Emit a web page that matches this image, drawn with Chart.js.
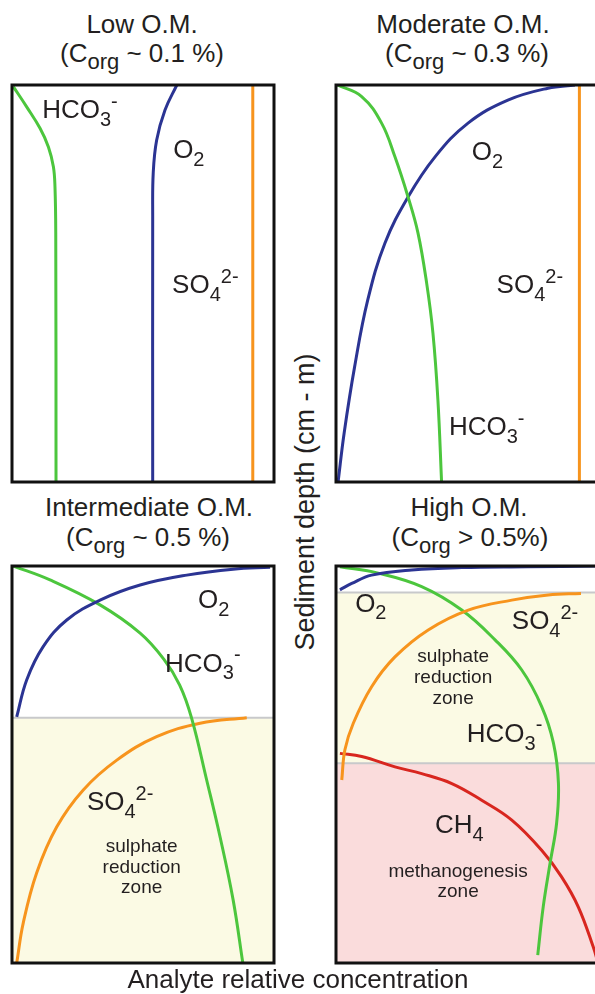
<!DOCTYPE html>
<html>
<head>
<meta charset="utf-8">
<script src="https://cdn.jsdelivr.net/npm/chart.js@4.4.1/dist/chart.umd.min.js"></script>
<style>
  html, body { margin: 0; padding: 0; background: #fff; overflow: hidden; }
  body { width: 595px; height: 994px; position: relative; font-family: "Liberation Sans", Arial, sans-serif; color: #231f20; }
  .panel { position: absolute; }
  .ttl { position: absolute; font-size: 26px; line-height: 30px; white-space: nowrap; transform: translateX(-50%); }
  .ttl .sb { font-size: 22px; position: relative; top: 7px; }
  #ytitle { position: absolute; left: 305px; top: 502px; font-size: 27px; line-height: 30px; white-space: nowrap;
            transform: translate(-50%, -50%) rotate(-90deg); }
  #xtitle { position: absolute; left: 298px; top: 964px; font-size: 26px; line-height: 30px; white-space: nowrap; transform: translateX(-50%); }
</style>
</head>
<body>

<div class="ttl" style="left:142px; top:9px">Low O.M.</div>
<div class="ttl" style="left:142px; top:38px">(C<span class="sb">org</span> ~ 0.1 %)</div>
<div class="ttl" style="left:463px; top:9px">Moderate O.M.</div>
<div class="ttl" style="left:467px; top:38px">(C<span class="sb">org</span> ~ 0.3 %)</div>
<div class="ttl" style="left:149px; top:492px">Intermediate O.M.</div>
<div class="ttl" style="left:148px; top:522px">(C<span class="sb">org</span> ~ 0.5 %)</div>
<div class="ttl" style="left:469px; top:492px">High O.M.</div>
<div class="ttl" style="left:470px; top:522px">(C<span class="sb">org</span> &gt; 0.5%)</div>

<div class="panel" style="left:8px; top:81px"><canvas id="pLow" width="270" height="405"></canvas></div>
<div class="panel" style="left:332px; top:81px"><canvas id="pMod" width="270" height="405"></canvas></div>
<div class="panel" style="left:8px; top:562px"><canvas id="pInt" width="270" height="405"></canvas></div>
<div class="panel" style="left:332px; top:562px"><canvas id="pHigh" width="270" height="405"></canvas></div>

<div id="ytitle">Sediment depth (cm - m)</div>
<div id="xtitle">Analyte relative concentration</div>

<script>
// [relative concentration, relative depth]
var lowHCO3 = [[0.005,0.004],[0.056,0.055],[0.107,0.109],[0.139,0.156],[0.158,0.206],[0.164,0.256],[0.167,0.373],[0.168,1.0]];
var lowO2   = [[0.629,0.0],[0.584,0.063],[0.552,0.139],[0.539,0.222],[0.537,0.332],[0.537,1.0]];
var lowSO4  = [[0.919,0.0],[0.919,1.0]];

var modHCO3 = [[0.005,0.0],[0.098,0.029],[0.174,0.096],[0.225,0.181],[0.275,0.282],[0.313,0.373],[0.346,0.499],[0.37,0.625],[0.389,0.794],[0.403,1.0]];
var modO2   = [[0.008,1.0],[0.031,0.877],[0.071,0.71],[0.121,0.542],[0.187,0.398],[0.275,0.282],[0.378,0.181],[0.504,0.096],[0.656,0.038],[0.809,0.008],[0.912,0.0]];
var modSO4  = [[0.929,0.0],[0.929,1.0]];

var intO2   = [[0.018,0.38],[0.056,0.287],[0.119,0.203],[0.209,0.136],[0.336,0.086],[0.489,0.048],[0.667,0.023],[0.844,0.008],[0.985,0.003]];
var intHCO3 = [[0.005,0.0],[0.145,0.035],[0.336,0.098],[0.489,0.169],[0.58,0.235],[0.64,0.3],[0.685,0.382],[0.743,0.539],[0.794,0.682],[0.844,0.841],[0.881,1.0]];
var intSO4  = [[0.018,1.0],[0.043,0.899],[0.094,0.773],[0.171,0.657],[0.272,0.564],[0.4,0.489],[0.552,0.43],[0.718,0.396],[0.896,0.382]];
var intZones = [0.382];

var highO2   = [[0.015,0.06],[0.06,0.044],[0.136,0.023],[0.289,0.01],[0.48,0.004],[0.733,0.002],[0.989,0.0]];
var highHCO3 = [[0.015,0.002],[0.161,0.018],[0.327,0.052],[0.48,0.111],[0.607,0.186],[0.709,0.262],[0.785,0.354],[0.83,0.446],[0.849,0.547],[0.842,0.648],[0.817,0.749],[0.791,0.858],[0.77,0.98]];
var highSO4  = [[0.022,0.539],[0.034,0.463],[0.066,0.396],[0.136,0.304],[0.225,0.229],[0.352,0.161],[0.505,0.111],[0.671,0.086],[0.81,0.073],[0.935,0.069]];
var highCH4  = [[0.015,0.472],[0.098,0.48],[0.225,0.506],[0.327,0.523],[0.442,0.548],[0.556,0.59],[0.671,0.64],[0.785,0.716],[0.861,0.783],[0.925,0.859],[0.982,0.96],[1.0,1.0]];
var highZones = [0.067, 0.497];

var GREEN = '#4cc63d', BLUE = '#2b3493', ORANGE = '#f7941d', RED = '#d8261f';
var YELLOW = '#fbfae4', PINK = '#fadcdc', GREY = '#c8c9cb';
var FONT = '"Liberation Sans", Arial, sans-serif';

var HCO3 = [['HCO','n'],['3','sub'],['-','sup']];
var O2 = [['O','n'],['2','sub']];
var SO4 = [['SO','n'],['4','sub'],['2-','sup']];
var CH4 = [['CH','n'],['4','sub']];

function drawRich(ctx, segs, x, y, size) {
  var cx = x;
  segs.forEach(function (s) {
    var fs = s[1] === 'n' ? size : Math.round(size * 0.78);
    ctx.font = fs + 'px ' + FONT;
    var dy = s[1] === 'sub' ? size * 0.3 : (s[1] === 'sup' ? -size * 0.4 : 0);
    ctx.fillText(s[0], cx, y + dy);
    cx += ctx.measureText(s[0]).width;
  });
}

var panelPlugin = {
  id: 'panel',
  beforeDatasetsDraw: function (chart) {
    var a = chart.chartArea, ys = chart.scales.y, ctx = chart.ctx;
    var z = chart.options.plugins.panel;
    ctx.save();
    (z.zones || []).forEach(function (zn) {
      var t = ys.getPixelForValue(zn.from), b = ys.getPixelForValue(zn.to);
      ctx.fillStyle = zn.color;
      ctx.fillRect(a.left, t, a.right - a.left, b - t);
    });
    (z.lines || []).forEach(function (v) {
      var p = ys.getPixelForValue(v);
      ctx.strokeStyle = GREY;
      ctx.lineWidth = 2;
      ctx.beginPath(); ctx.moveTo(a.left, p); ctx.lineTo(a.right, p); ctx.stroke();
    });
    ctx.restore();
  },
  afterDatasetsDraw: function (chart) {
    var ctx = chart.ctx, xs = chart.scales.x, ys = chart.scales.y;
    var z = chart.options.plugins.panel;
    ctx.save();
    ctx.fillStyle = '#231f20';
    ctx.textBaseline = 'alphabetic';
    (z.labels || []).forEach(function (l) {
      var px = xs.getPixelForValue(l.x), py = ys.getPixelForValue(l.y);
      if (l.segs) {
        drawRich(ctx, l.segs, px, py, 26);
      } else {
        ctx.font = '19px ' + FONT;
        ctx.textAlign = 'center';
        ctx.fillText(l.text, px, py);
        ctx.textAlign = 'left';
      }
    });
    var a = chart.chartArea;
    ctx.strokeStyle = '#111';
    ctx.lineWidth = 3;
    ctx.strokeRect(a.left, a.top, a.right - a.left, a.bottom - a.top);
    ctx.restore();
  }
};

function line(pts, color) {
  return {
    data: pts.map(function (p) { return { x: p[0], y: p[1] }; }),
    showLine: true, borderColor: color, borderWidth: 3, pointRadius: 0,
    tension: 0.4, fill: false
  };
}

function makePanel(id, series, extra) {
  new Chart(document.getElementById(id), {
    type: 'scatter',
    data: { datasets: series },
    options: {
      responsive: false, animation: false, events: [],
      layout: { padding: 4 },
      scales: {
        x: { type: 'linear', min: 0, max: 1, display: false },
        y: { type: 'linear', min: 0, max: 1, reverse: true, display: false }
      },
      plugins: { legend: { display: false }, tooltip: { enabled: false }, panel: extra }
    },
    plugins: [panelPlugin]
  });
}

makePanel('pLow', [line(lowHCO3, GREEN), line(lowO2, BLUE), line(lowSO4, ORANGE)], {
  labels: [
    { x: 0.115, y: 0.083, segs: HCO3 },
    { x: 0.615, y: 0.184, segs: O2 },
    { x: 0.611, y: 0.524, segs: SO4 }
  ]
});

makePanel('pMod', [line(modHCO3, GREEN), line(modO2, BLUE), line(modSO4, ORANGE)], {
  labels: [
    { x: 0.518, y: 0.189, segs: O2 },
    { x: 0.613, y: 0.524, segs: SO4 },
    { x: 0.431, y: 0.882, segs: HCO3 }
  ]
});

makePanel('pInt', [line(intO2, BLUE), line(intHCO3, GREEN), line(intSO4, ORANGE)], {
  zones: [{ from: intZones[0], to: 1, color: YELLOW }],
  lines: intZones,
  labels: [
    { x: 0.71, y: 0.107, segs: O2 },
    { x: 0.584, y: 0.266, segs: HCO3 },
    { x: 0.286, y: 0.615, segs: SO4 },
    { x: 0.495, y: 0.72, text: 'sulphate' },
    { x: 0.495, y: 0.774, text: 'reduction' },
    { x: 0.495, y: 0.824, text: 'zone' }
  ]
});

makePanel('pHigh', [line(highO2, BLUE), line(highSO4, ORANGE), line(highHCO3, GREEN), line(highCH4, RED)], {
  zones: [{ from: highZones[0], to: highZones[1], color: YELLOW }, { from: highZones[1], to: 1, color: PINK }],
  lines: highZones,
  labels: [
    { x: 0.073, y: 0.115, segs: O2 },
    { x: 0.671, y: 0.159, segs: SO4 },
    { x: 0.447, y: 0.241, text: 'sulphate' },
    { x: 0.447, y: 0.295, text: 'reduction' },
    { x: 0.447, y: 0.348, text: 'zone' },
    { x: 0.499, y: 0.443, segs: HCO3 },
    { x: 0.378, y: 0.673, segs: CH4 },
    { x: 0.466, y: 0.783, text: 'methanogenesis' },
    { x: 0.466, y: 0.835, text: 'zone' }
  ]
});
</script>
</body>
</html>
